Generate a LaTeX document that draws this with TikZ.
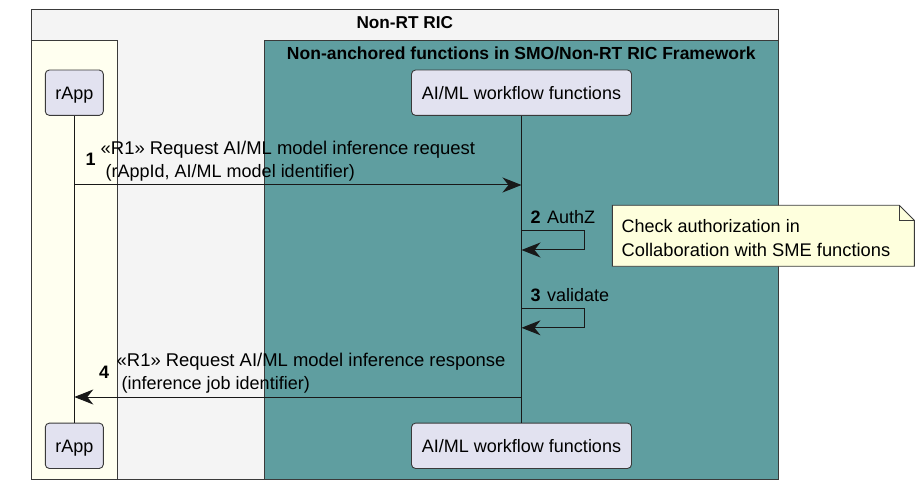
\documentclass[tikz,border=0pt]{standalone}
\usepackage{fontspec}
\setmainfont{Liberation Sans}
\usetikzlibrary{arrows.meta}
\definecolor{linec}{HTML}{181818}
\definecolor{boxline}{HTML}{3A3A3A}
\definecolor{ricfill}{HTML}{F4F4F4}
\definecolor{appfill}{HTML}{FFFFF0}
\definecolor{tealfill}{HTML}{5F9EA0}
\definecolor{partfill}{HTML}{E2E2F0}
\definecolor{notefill}{HTML}{FEFFDD}
\tikzset{
  grp/.style={draw=boxline, line width=0.9pt},
  part/.style={draw=boxline, fill=partfill, rounded corners=4pt, line width=0.9pt,
    font=\fontsize{18}{21}\selectfont, text height=13pt, text depth=0pt,
    inner sep=0pt, minimum height=45.3pt},
  msgtxt/.style={font=\fontsize{18}{21}\selectfont, inner sep=0pt, anchor=base west},
  widetxt/.style={font=\fontsize{18.45}{21}\selectfont, inner sep=0pt, anchor=base west},
  seqnum/.style={font=\fontsize{18}{21}\selectfont\bfseries, inner sep=0pt, anchor=base west},
  grptitle/.style={font=\fontsize{17.2}{20}\selectfont\bfseries, inner sep=0pt, anchor=base},
  msg/.style={draw=linec, line width=1pt, -{Stealth[length=19pt,width=15pt,inset=6pt]}},
  life/.style={draw=linec, line width=0.8pt},
  notebox/.style={draw=boxline, fill=notefill, line width=0.9pt},
}
\begin{document}
\begin{tikzpicture}[x=1pt,y=-1pt]
\useasboundingbox (0,0) rectangle (923,486);
% group boxes
\draw[grp, fill=ricfill] (31.3,9) rectangle (778.3,479);
\draw[grp, fill=appfill] (31.3,40.7) rectangle (117.7,479);
\draw[grp, fill=tealfill] (264.3,40.7) rectangle (778.3,479);
\node[grptitle] (t1) at (404.8,28.3) {Non-RT RIC};
\node[grptitle, font=\fontsize{17.5}{20}\selectfont\bfseries] (t2) at (521.3,59.3) {Non-anchored functions in SMO/Non-RT RIC Framework};
% participants
\node[part, minimum width=58pt] (rapp) at (74.3,92.7) {rApp};
\node[part, minimum width=220pt] (wf) at (521.5,92.7) {AI/ML workflow functions};
\node[part, minimum width=58pt] (rappb) at (74.3,445.8) {rApp};
\node[part, minimum width=220pt] (wfb) at (521.5,445.8) {AI/ML workflow functions};
% lifelines
\draw[life] (rapp.south) -- (rappb.north);
\draw[life] (wf.south) -- (wfb.north);
% message 1
\draw[msg] (rapp.south |- 0,185) -- (wf.south |- 0,185);
\node[seqnum] (n1) at (85.5,166) {1};
\node[widetxt] (l1a) at (100.5,154.5) {«R1» Request AI/ML model inference request};
\node[msgtxt] (l1b) at (105.5,177.5) {(rAppId, AI/ML model identifier)};
% message 2
\draw[msg] (wf.south |- 0,231) -- ++(63,0) -- ++(0,19) -- (wf.south |- 0,250);
\node[seqnum] (n2) at (530.5,223.3) {2};
\node[msgtxt] (l2) at (547,223.3) {AuthZ};
% message 3
\draw[msg] (wf.south |- 0,308.3) -- ++(63,0) -- ++(0,19.5) -- (wf.south |- 0,327.8);
\node[seqnum] (n3) at (530.5,301) {3};
\node[msgtxt] (l3) at (547,301) {validate};
% message 4
\draw[msg] (wf.south |- 0,397) -- (rapp.south |- 0,397);
\node[seqnum] (n4) at (99,378) {4};
\node[widetxt] (l4a) at (116.5,366) {«R1» Request AI/ML model inference response};
\node[msgtxt] (l4b) at (121.5,389) {(inference job identifier)};
% note
\draw[notebox] (612.3,205.3) -- (899.3,205.3) -- (914.3,220.3) -- (914.3,266.3) -- (612.3,266.3) -- cycle;
\draw[notebox, fill=none] (899.3,205.3) -- (899.3,220.3) -- (914.3,220.3);
\node[msgtxt] (nt1) at (621.5,233) {Check authorization in};
\node[msgtxt, font=\fontsize{18.3}{21}\selectfont] (nt2) at (621.5,257) {Collaboration with SME functions};
\end{tikzpicture}
\end{document}
